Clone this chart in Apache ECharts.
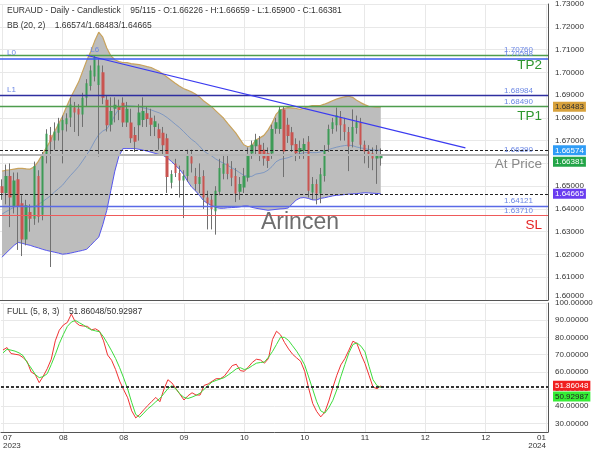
<!DOCTYPE html>
<html><head><meta charset="utf-8">
<script src="https://cdn.jsdelivr.net/npm/echarts@6/dist/echarts.min.js"></script>
<style>html,body{margin:0;padding:0;background:#fff}#c{width:600px;height:450px}</style>
</head><body><div id="c"></div><script>
// ---- data ----
const opens = [1.6500,1.6470,1.6545,1.6410,1.6530,1.6425,1.6266,1.6387,1.6357,1.6545,
 1.6374,1.6639,1.6725,1.6700,1.6735,1.6745,1.6772,1.6802,1.6845,1.6840,
 1.6815,1.6888,1.6940,1.6982,1.6944,1.7000,1.6880,1.6770,1.6840,1.6850,
 1.6866,1.6780,1.6780,1.6725,1.6768,1.6790,1.6820,1.6800,1.6760,1.6750,
 1.6735,1.6710,1.6515,1.6600,1.6558,1.6525,1.6545,1.6630,1.6545,1.6510,
 1.6545,1.6450,1.6440,1.6390,1.6475,1.6555,1.6600,1.6575,1.6545,1.6475,
 1.6494,1.6537,1.6643,1.6675,1.6682,1.6660,1.6645,1.6643,1.6752,1.6751,
 1.6837,1.6770,1.6737,1.6685,1.6650,1.6655,1.6695,1.6472,1.6510,1.6468,
 1.6545,1.6682,1.6751,1.6767,1.6802,1.6772,1.6738,1.6695,1.6755,1.6781,
 1.6682,1.6652,1.6645,1.6622,1.66226];
const closes = [1.6470,1.6545,1.6450,1.6525,1.6410,1.6266,1.6416,1.6357,1.6589,1.6365,
 1.6631,1.6730,1.6695,1.6740,1.6775,1.6790,1.6798,1.6859,1.6824,1.6815,
 1.6888,1.6952,1.7008,1.7068,1.7030,1.6888,1.6768,1.6830,1.6858,1.6835,
 1.6780,1.6840,1.6710,1.6695,1.6824,1.6830,1.6795,1.6770,1.6785,1.6710,
 1.6680,1.6540,1.6553,1.6558,1.6525,1.6545,1.6640,1.6600,1.6510,1.6540,
 1.6450,1.6425,1.6400,1.6480,1.6580,1.6598,1.6553,1.6537,1.6468,1.6510,
 1.6545,1.6640,1.6682,1.6704,1.6640,1.6622,1.6610,1.6751,1.6781,1.6837,
 1.6652,1.6720,1.6680,1.6644,1.6668,1.6685,1.6480,1.6510,1.6468,1.6552,
 1.6658,1.6751,1.6781,1.6811,1.6767,1.6738,1.6674,1.6760,1.6781,1.6682,
 1.6652,1.6640,1.6622,1.6640,1.66381];
const lows = [1.6440,1.6420,1.6320,1.6380,1.6220,1.6193,1.6240,1.6300,1.6330,1.6340,
 1.6350,1.6600,1.6145,1.6660,1.6700,1.6600,1.6740,1.6760,1.6738,1.6720,
 1.6760,1.6850,1.6920,1.6960,1.6630,1.6860,1.6740,1.6740,1.6780,1.6790,
 1.6760,1.6760,1.6690,1.6650,1.6700,1.6760,1.6760,1.6720,1.6720,1.6660,
 1.6640,1.6470,1.6490,1.6540,1.6450,1.6360,1.6520,1.6560,1.6480,1.6470,
 1.6400,1.6310,1.6310,1.6287,1.6460,1.6530,1.6530,1.6500,1.6430,1.6440,
 1.6470,1.6520,1.6620,1.6640,1.6610,1.6590,1.6580,1.6620,1.6730,1.6730,
 1.6540,1.6690,1.6650,1.6610,1.6620,1.6620,1.6450,1.6440,1.6420,1.6425,
 1.6520,1.6650,1.6730,1.6740,1.6700,1.6700,1.6566,1.6670,1.6730,1.6660,
 1.6600,1.6580,1.6570,1.6510,1.65900];
const highs = [1.6530,1.6595,1.6600,1.6560,1.6560,1.6460,1.6440,1.6420,1.6608,1.6570,
 1.6650,1.6750,1.6760,1.6780,1.6800,1.6810,1.6820,1.6888,1.6870,1.6860,
 1.6910,1.6970,1.7030,1.7076,1.7060,1.7030,1.6900,1.6890,1.6890,1.6880,
 1.6890,1.6870,1.6840,1.6760,1.6860,1.6890,1.6850,1.6840,1.6810,1.6775,
 1.6760,1.6730,1.6570,1.6620,1.6590,1.6570,1.6660,1.6660,1.6580,1.6600,
 1.6570,1.6480,1.6460,1.6500,1.6620,1.6640,1.6640,1.6610,1.6580,1.6540,
 1.6580,1.6670,1.6700,1.6730,1.6720,1.6690,1.6670,1.6770,1.6800,1.6848,
 1.6848,1.6800,1.6760,1.6710,1.6700,1.6710,1.6720,1.6540,1.6530,1.6580,
 1.6680,1.6770,1.6800,1.6845,1.6830,1.6800,1.6760,1.6837,1.6810,1.6800,
 1.6700,1.6680,1.6670,1.6680,1.66659];
const bbUpper = [1.6566,1.6570,1.6572,1.6575,1.6578,1.6578,1.6576,1.6575,1.6585,1.6609,
 1.6639,1.6669,1.6699,1.6738,1.6772,1.6806,1.6849,1.6888,1.6922,1.6957,
 1.7004,1.7051,1.7090,1.7137,1.7176,1.7154,1.7107,1.7073,1.7055,1.7047,
 1.7043,1.7043,1.7038,1.7036,1.7034,1.7030,1.7025,1.7021,1.7012,1.7004,
 1.6991,1.6978,1.6965,1.6952,1.6940,1.6929,1.6922,1.6914,1.6905,1.6892,
 1.6875,1.6862,1.6849,1.6832,1.6815,1.6798,1.6776,1.6755,1.6734,1.6708,
 1.6682,1.6673,1.6678,1.6703,1.6712,1.6723,1.6746,1.6776,1.6815,1.6834,
 1.6841,1.6845,1.6843,1.6841,1.6837,1.6843,1.6849,1.6854,1.6854,1.6854,
 1.6860,1.6867,1.6875,1.6882,1.6888,1.6892,1.6895,1.6890,1.6877,1.6867,
 1.6858,1.6851,1.6849,1.6847,1.68483];
const bbMiddle = [1.6377,1.6388,1.6398,1.6408,1.6416,1.6414,1.6410,1.6408,1.6410,1.6419,
 1.6431,1.6444,1.6457,1.6474,1.6489,1.6504,1.6526,1.6547,1.6566,1.6586,
 1.6611,1.6637,1.6665,1.6698,1.6726,1.6742,1.6751,1.6777,1.6811,1.6839,
 1.6854,1.6854,1.6852,1.6851,1.6848,1.6844,1.6840,1.6835,1.6828,1.6822,
 1.6813,1.6801,1.6787,1.6772,1.6758,1.6741,1.6723,1.6706,1.6693,1.6676,
 1.6656,1.6643,1.6633,1.6620,1.6609,1.6601,1.6591,1.6581,1.6571,1.6559,
 1.6548,1.6543,1.6543,1.6553,1.6556,1.6560,1.6570,1.6586,1.6607,1.6617,
 1.6621,1.6625,1.6632,1.6640,1.6643,1.6647,1.6648,1.6647,1.6647,1.6650,
 1.6655,1.6660,1.6666,1.6671,1.6675,1.6678,1.6680,1.6678,1.6672,1.6668,
 1.6665,1.6661,1.6659,1.6658,1.66574];
const bbLower = [1.6188,1.6206,1.6223,1.6240,1.6253,1.6249,1.6244,1.6240,1.6234,1.6229,
 1.6223,1.6218,1.6214,1.6210,1.6206,1.6201,1.6203,1.6206,1.6210,1.6214,
 1.6218,1.6223,1.6240,1.6259,1.6276,1.6330,1.6394,1.6480,1.6566,1.6631,
 1.6665,1.6665,1.6665,1.6665,1.6662,1.6658,1.6654,1.6649,1.6644,1.6639,
 1.6635,1.6624,1.6609,1.6592,1.6575,1.6553,1.6523,1.6497,1.6480,1.6459,
 1.6437,1.6424,1.6416,1.6407,1.6403,1.6403,1.6405,1.6406,1.6407,1.6409,
 1.6413,1.6413,1.6407,1.6403,1.6400,1.6397,1.6394,1.6396,1.6398,1.6400,
 1.6401,1.6404,1.6421,1.6439,1.6448,1.6450,1.6446,1.6440,1.6439,1.6446,
 1.6449,1.6453,1.6457,1.6460,1.6461,1.6463,1.6465,1.6466,1.6467,1.6469,
 1.6471,1.6470,1.6469,1.6468,1.64665];
const stochK = [72.7,74.1,70.6,70.2,69.8,68.3,65.9,59.9,58.5,53.7,
 57.4,61.8,67.3,78.0,84.2,87.2,88.7,93.6,88.9,87.0,
 86.6,86.4,84.4,85.0,83.6,78.0,69.8,66.7,61.3,54.6,
 49.6,44.9,37.3,33.2,35.2,37.9,40.4,42.8,45.1,42.6,
 49.8,55.4,53.5,50.2,46.9,43.6,46.1,47.8,46.5,46.5,
 52.1,52.9,54.5,56.0,56.0,57.4,60.5,63.6,64.4,60.7,
 60.3,62.8,65.5,67.3,66.9,65.0,67.7,78.8,83.6,81.5,
 77.0,73.3,70.2,68.1,66.1,60.3,50.4,41.6,36.9,33.8,
 36.5,43.0,50.8,58.0,64.0,67.7,72.6,77.8,76.4,70.2,
 64.8,58.0,51.1,50.2,51.86048];
const stochD = [71.0,73.1,72.6,72.0,71.0,69.4,65.4,62.2,58.5,56.6,
 57.2,58.9,64.2,70.0,76.4,81.7,86.4,88.9,89.9,88.5,
 87.2,85.6,84.4,83.8,83.3,80.3,76.4,72.2,67.7,62.4,
 56.4,50.0,42.2,35.2,33.6,36.0,38.5,40.4,42.6,44.5,
 47.3,50.2,51.9,50.0,47.1,45.1,44.5,45.3,46.3,47.6,
 49.8,52.1,54.1,55.0,55.8,56.6,58.2,59.9,61.7,62.4,
 61.3,62.0,63.6,65.0,65.4,65.7,68.5,71.8,75.9,80.1,
 80.0,78.2,75.1,72.0,68.3,64.0,57.0,49.8,42.6,37.3,
 36.0,39.1,43.4,49.6,57.2,64.2,71.0,75.9,76.8,74.9,
 71.6,63.2,55.4,51.9,50.92987];
const xTickLabels = ['07\n2023','08','08','09','10','10','11','12','12','01\n2024'];
const levelTP2 = 1.70760, levelL0 = 1.70598, levelL1 = 1.68984, levelTP1 = 1.68490;
const levelAt = 1.66390, levelLow = 1.64121, levelSL = 1.63710;
const trendStart = [21, 1.7075], trendEnd = [115, 1.6668];
const peakMark = [23, 1.7076];

// ---- build ----
const FONT = '"Liberation Sans", Arial, sans-serif';
const N_SLOTS = 136, TICK_EVERY = 15;
const cats = Array.from({length: N_SLOTS}, (_, i) => String(i));
const candleData = opens.map((o, i) => [o, closes[i], lows[i], highs[i]]);
const bandDiff = bbUpper.map((u, i) => +(u - bbLower[i]).toFixed(6));
const L = opens.length - 1;
const f5 = v => v.toFixed(5);
const BLUE_TXT = '#6a86e4';
const GRID_C = '#e8e8e8';

function priceLbl(v) {
  return {show: true, position: 'insideEndTop', formatter: f5(v), color: BLUE_TXT,
    fontSize: 8, fontFamily: FONT, distance: 1, padding: [0, 14, 0, 0]};
}
function nameLbl(t, c) {
  return {show: true, position: 'insideEndBottom', formatter: t, color: c,
    fontSize: 13.5, fontFamily: FONT, distance: 3, padding: [0, 3, 0, 0]};
}
function leftLbl(t) {
  return {show: true, position: 'insideStartTop', formatter: t, color: BLUE_TXT,
    fontSize: 8, fontFamily: FONT, distance: 2, padding: [0, 0, 0, 5]};
}
const NONE = {color: 'rgba(0,0,0,0)', width: 0};
function box(v, bg, fg, off) {
  return {show: true, position: 'end', formatter: f5(v), backgroundColor: bg, color: fg,
    fontSize: 8, fontFamily: FONT, padding: [1, 2, 1, 2], distance: 5, offset: [0, off || 0]};
}

const mainLines = [
  {yAxis: levelTP2, lineStyle: {color: '#4e9d4e', width: 1.3, type: 'solid'}, label: priceLbl(levelTP2)},
  {yAxis: levelTP2, lineStyle: NONE, label: nameLbl('TP2', '#2f962f')},
  {yAxis: levelL0, lineStyle: {color: '#3d5cf0', width: 1.5, type: 'solid'}, label: priceLbl(levelL0)},
  {yAxis: levelL0, lineStyle: NONE, label: leftLbl('L0')},
  {yAxis: levelL1, lineStyle: {color: '#2e2ea0', width: 1.3, type: 'solid'}, label: priceLbl(levelL1)},
  {yAxis: levelL1, lineStyle: NONE, label: leftLbl('L1')},
  {yAxis: levelTP1, lineStyle: {color: '#4e9d4e', width: 1.3, type: 'solid'}, label: priceLbl(levelTP1)},
  {yAxis: levelTP1, lineStyle: NONE, label: nameLbl('TP1', '#2f962f')},
  {yAxis: levelAt, lineStyle: {color: '#b4b4b4', width: 2, type: 'solid'}, label: priceLbl(levelAt)},
  {yAxis: levelAt, lineStyle: NONE, label: nameLbl('At Price', '#8a8a8a')},
  {yAxis: levelLow, lineStyle: {color: '#5a6ae6', width: 1.3, type: 'solid'}, label: priceLbl(levelLow)},
  {yAxis: levelSL, lineStyle: {color: '#ee5a5a', width: 1.2, type: 'solid'}, label: priceLbl(levelSL)},
  {yAxis: levelSL, lineStyle: NONE, label: nameLbl('SL', '#e52222')},
  {yAxis: bbMiddle[L], lineStyle: {color: '#222', width: 1, type: [3, 2]}, label: box(bbMiddle[L], '#2f9cf6', '#fff')},
  {yAxis: bbLower[L], lineStyle: {color: '#222', width: 1, type: [3, 2]}, label: box(bbLower[L], '#6a3cf0', '#fff')},
  {yAxis: bbUpper[L], lineStyle: NONE, label: box(bbUpper[L], '#d8a23c', '#333')},
  {yAxis: closes[L], lineStyle: NONE, label: box(closes[L], '#23a548', '#fff', 7)},
  [{coord: trendStart, lineStyle: {color: '#3a3af0', width: 1.2, type: 'solid'}, label: {show: false}},
   {coord: trendEnd}]
];

const lowerLines = [
  {yAxis: stochK[L], lineStyle: {color: '#333', width: 1, type: [3, 2]}, label: box(stochK[L], '#f02020', '#fff')},
  {yAxis: stochD[L], lineStyle: {color: '#333', width: 1, type: [3, 2]}, label: box(stochD[L], '#35ee35', '#222', 9)}
];

const xBase = {
  type: 'category', data: cats, boundaryGap: true,
  axisTick: {show: false},
  axisLine: {show: true, lineStyle: {color: '#555', width: 1}},
  splitLine: {show: true, interval: TICK_EVERY - 1, alignWithLabel: true, lineStyle: {color: GRID_C, width: 1}}
};

const option = {
  animation: false,
  backgroundColor: '#fff',
  textStyle: {fontFamily: FONT},
  title: [
    {text: 'EURAUD - Daily - Candlestick    ' + opens.length + '/115 - O:' + f5(opens[L]) + ' - H:' + f5(highs[L]) + ' - L:' + f5(lows[L]) + ' - C:' + f5(closes[L]),
     left: 7, top: 6, padding: 0, textStyle: {fontSize: 8.5, fontWeight: 'normal', color: '#333', fontFamily: FONT}},
    {text: 'BB (20, 2)    ' + f5(bbMiddle[L]) + '/' + f5(bbUpper[L]) + '/' + f5(bbLower[L]),
     left: 7, top: 21, padding: 0, textStyle: {fontSize: 8.5, fontWeight: 'normal', color: '#333', fontFamily: FONT}},
    {text: 'FULL (5, 8, 3)    ' + f5(stochK[L]) + '/' + f5(stochD[L]),
     left: 7, top: 307, padding: 0, textStyle: {fontSize: 8.5, fontWeight: 'normal', color: '#333', fontFamily: FONT}}
  ],
  graphic: [{type: 'text', x: 300, y: 223, z: 50,
    style: {text: 'Arincen', font: '23px ' + FONT, fill: '#6e6e6e', align: 'center', verticalAlign: 'middle',
            textAlign: 'center', textVerticalAlign: 'middle'}}],
  grid: [
    {left: 0, top: 0, width: 548, height: 300},
    {left: 0, top: 303, width: 548, height: 129}
  ],
  xAxis: [
    Object.assign({}, xBase, {gridIndex: 0, axisLabel: {show: false}}),
    Object.assign({}, xBase, {gridIndex: 1, axisLabel: {show: true, interval: TICK_EVERY - 1,
      formatter: (v, i) => xTickLabels[Math.round(i / TICK_EVERY)] || '',
      fontSize: 8, lineHeight: 8, color: '#333', margin: 2, fontFamily: FONT,
      alignMinLabel: 'left', alignMaxLabel: 'right'}})
  ],
  yAxis: [
    {gridIndex: 0, type: 'value', position: 'right', min: 1.60, max: 1.73, interval: 0.01,
     axisLine: {show: true, lineStyle: {color: '#555'}}, axisTick: {show: false},
     axisLabel: {formatter: v => v.toFixed(5), fontSize: 8, color: '#333', margin: 7, fontFamily: FONT,
       verticalAlignMinLabel: 'bottom'},
     splitLine: {show: true, lineStyle: {color: GRID_C}}},
    {gridIndex: 1, type: 'value', position: 'right', min: 25, max: 100, interval: 5,
     axisLine: {show: true, lineStyle: {color: '#555'}}, axisTick: {show: false},
     axisLabel: {formatter: v => (Math.round(v) % 10 === 0 ? v.toFixed(5) : ''), fontSize: 8, color: '#333', margin: 7, fontFamily: FONT},
     splitLine: {show: true, lineStyle: {color: ['rgba(0,0,0,0)', GRID_C]}}}
  ],
  series: [
    {name: 'bbBase', type: 'line', data: bbLower, stack: 'bb', symbol: 'none', silent: true, z: 1,
     lineStyle: {width: 0, opacity: 0}, xAxisIndex: 0, yAxisIndex: 0},
    {name: 'bbBand', type: 'line', data: bandDiff, stack: 'bb', symbol: 'none', silent: true, z: 1,
     lineStyle: {width: 0, opacity: 0}, areaStyle: {color: '#bdbdbd', opacity: 1}, xAxisIndex: 0, yAxisIndex: 0},
    {name: 'bbUpperLine', type: 'line', data: bbUpper, symbol: 'none', silent: true, z: 2,
     lineStyle: {color: '#c9a35c', width: 1.2}, xAxisIndex: 0, yAxisIndex: 0},
    {name: 'bbLowerLine', type: 'line', data: bbLower, symbol: 'none', silent: true, z: 2,
     lineStyle: {color: '#5656ee', width: 1}, xAxisIndex: 0, yAxisIndex: 0},
    {name: 'bbMiddleLine', type: 'line', data: bbMiddle, symbol: 'none', silent: true, z: 2,
     lineStyle: {color: '#6f8ec2', width: 0.8}, xAxisIndex: 0, yAxisIndex: 0},
    {name: 'wicks', type: 'candlestick', data: candleData, barWidth: 1, silent: true, z: 3,
     itemStyle: {color: '#707070', color0: '#707070', borderColor: '#707070', borderColor0: '#707070', borderWidth: 1},
     xAxisIndex: 0, yAxisIndex: 0},
    {name: 'candles', type: 'candlestick', data: candleData, barWidth: 3, silent: true, z: 4,
     itemStyle: {color: '#3d9b57', color0: '#c95450', borderColor: 'rgba(0,0,0,0)', borderColor0: 'rgba(0,0,0,0)', borderWidth: 0},
     markLine: {symbol: ['none', 'none'], precision: 6, silent: true, animation: false, data: mainLines},
     markPoint: {silent: true, data: [{coord: peakMark, symbol: 'circle', symbolSize: 0,
       itemStyle: {color: 'rgba(0,0,0,0)'},
       label: {show: true, formatter: 'L6', position: 'top', distance: 1, color: BLUE_TXT, fontSize: 8, fontFamily: FONT}}]},
     xAxisIndex: 0, yAxisIndex: 0},
    {name: '%K', type: 'line', data: stochK, symbol: 'none', silent: true, z: 3,
     lineStyle: {color: '#f03232', width: 1}, xAxisIndex: 1, yAxisIndex: 1,
     markLine: {symbol: ['none', 'none'], precision: 6, silent: true, animation: false, data: lowerLines}},
    {name: '%D', type: 'line', data: stochD, symbol: 'none', silent: true, z: 3,
     lineStyle: {color: '#3ddc3d', width: 1}, xAxisIndex: 1, yAxisIndex: 1}
  ]
};
const chart = echarts.init(document.getElementById('c'));
chart.setOption(option);
</script></body></html>
